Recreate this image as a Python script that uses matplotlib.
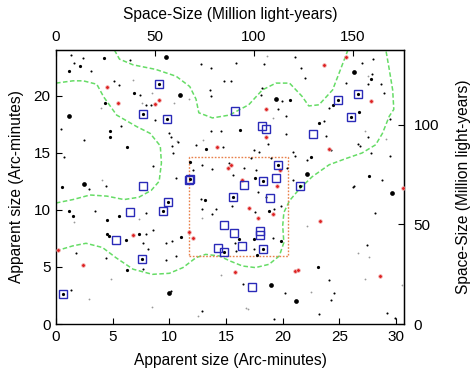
import matplotlib
matplotlib.use("Agg")
import matplotlib.pyplot as plt
import numpy as np

plt.rcParams['font.family'] = ['Liberation Sans', 'DejaVu Sans']
plt.rcParams['font.size'] = 11

# arc-minutes -> million light-years
MLY_PER_ARCMIN = 5.73

# galaxies (arc-minutes)
blk_large = [(9.7, 23.4), (10.9, 20.1), (1.12, 18.25), (2.44, 12.25), (26.3, 22.05),
             (19.45, 19.7), (22.1, 13.16), (10.0, 2.68), (29.6, 11.46), (18.95, 3.39),
             (21.15, 1.98)]
blk_med = [(4.26, 23.3), (2.15, 22.6), (1.18, 22.2), (6.85, 20.2), (4.35, 19.4), (4.76, 16.9),
           (4.76, 16.4), (6.3, 15.5), (13.2, 15.3), (0.5, 11.97), (11.8, 14.2), (27.8, 21.5),
           (20.6, 19.6), (24.4, 19.2), (26.7, 18.6), (23.2, 17.6), (16.2, 16.97), (22.5, 14.6),
           (17.56, 12.8), (27.6, 13.0), (1.18, 9.9), (1.47, 9.47), (5.6, 9.47), (4.5, 9.1),
           (4.47, 7.9), (4.65, 7.7), (6.2, 7.36), (7.35, 7.9), (11.0, 7.6), (13.15, 10.87),
           (6.26, 4.7), (18.8, 9.9), (16.1, 7.42), (17.5, 7.42), (19.83, 7.28), (17.77, 6.02),
           (23.1, 5.02)]
blk_small = [(1.32, 23.6), (2.35, 23.3), (1.6, 22.9), (3.1, 22.2), (6.5, 23.1), (12.8, 22.8),
             (13.7, 22.4), (5.15, 21.3), (5.6, 20.97), (7.4, 20.1), (7.94, 19.2), (8.4, 19.2),
             (13.6, 20.5), (13.7, 19.95), (14.85, 21.3), (0.44, 17.1), (8.76, 17.9), (5.7, 17.3),
             (2.44, 16.1), (10.0, 16.7), (10.15, 16.4), (10.8, 15.9), (10.2, 15.6), (10.35, 15.0),
             (13.7, 16.9), (14.6, 16.9), (14.7, 15.5), (12.35, 15.7), (0.74, 14.6), (8.53, 13.8),
             (12.06, 13.5), (12.9, 13.95), (13.8, 13.6), (15.3, 14.1), (4.4, 12.1), (10.6, 12.8),
             (21.1, 23.4), (15.9, 22.9), (18.35, 22.8), (21.6, 22.4), (26.98, 22.9), (28.0, 23.2),
             (27.9, 21.9), (22.0, 21.55), (15.4, 21.26), (25.6, 21.1), (27.5, 21.0), (28.65, 21.0),
             (18.2, 20.7), (18.06, 20.1), (19.98, 19.5), (19.6, 18.8), (24.1, 18.9), (28.95, 20.2),
             (29.5, 18.0), (20.3, 18.2), (23.65, 17.75), (20.3, 16.6), (23.8, 16.5), (27.5, 16.4),
             (18.74, 15.8), (24.24, 15.2), (26.65, 15.8), (26.85, 15.56), (17.5, 15.2), (17.9, 15.1),
             (17.2, 14.5), (18.95, 14.5), (20.95, 15.1), (21.1, 14.7), (22.1, 14.4), (27.8, 15.0),
             (29.5, 14.7), (16.6, 13.66), (17.6, 13.5), (15.6, 13.07), (20.4, 13.66), (20.9, 12.6),
             (28.8, 12.6), (26.3, 12.05), (2.94, 11.8), (3.4, 9.9), (7.9, 9.7), (8.6, 8.2),
             (7.94, 7.86), (7.7, 7.07), (8.1, 6.54), (9.7, 7.13), (10.2, 7.28), (10.6, 5.96),
             (9.7, 5.6), (12.8, 10.93), (12.9, 10.05), (14.1, 10.05), (13.76, 9.6), (1.76, 6.25),
             (4.4, 5.81), (7.7, 4.85), (1.3, 2.98), (10.15, 2.89), (12.9, 1.14), (17.8, 11.57),
             (15.56, 10.35), (17.56, 9.8), (19.24, 10.05), (19.83, 10.3), (19.1, 7.57), (15.8, 7.07),
             (17.5, 6.54), (15.86, 6.4), (26.2, 12.0), (28.15, 9.76), (27.4, 6.9), (24.1, 3.85),
             (16.5, 3.53), (20.2, 2.74), (24.5, 2.74), (24.3, 2.07), (23.2, 0.84), (29.2, 0.99),
             (19.2, 0.46), (29.9, 0.55), (18.5, 11.1)]
gray_small = [(6.76, 21.4), (8.5, 20.2), (3.97, 18.9), (7.6, 19.4), (10.4, 19.4), (11.7, 19.7),
              (10.7, 16.05), (13.0, 16.1), (4.1, 12.6), (18.65, 23.5), (27.5, 21.7), (19.1, 18.05),
              (27.3, 16.9), (29.1, 16.2), (1.6, 8.9), (7.3, 9.2), (12.9, 9.26), (4.85, 3.9),
              (2.94, 2.16), (8.5, 1.5), (12.5, 0.7), (14.55, 4.26), (22.1, 8.6), (26.6, 6.25),
              (27.6, 5.87), (27.3, 3.97), (22.5, 2.8), (16.9, 1.34), (30.5, 3.39), (16.8, 1.4)]
red_pts = [(4.5, 20.8), (9.06, 19.65), (8.76, 19.3), (5.5, 19.4), (14.2, 15.5), (15.15, 13.7),
           (23.65, 22.7), (25.6, 23.4), (18.56, 18.8), (27.8, 19.5), (18.5, 16.4), (24.1, 15.3),
           (15.4, 13.95), (19.8, 13.5), (16.45, 12.6), (19.5, 12.05), (30.6, 11.9), (6.8, 7.77),
           (11.76, 8.06), (12.06, 7.57), (0.15, 6.49), (2.4, 5.14), (17.03, 10.2), (19.1, 9.6),
           (17.8, 9.32), (23.3, 9.03), (21.1, 4.64), (21.36, 4.73), (15.8, 4.56), (28.6, 4.2)]
sq_dot = [(9.06, 21.0), (7.65, 18.4), (9.8, 18.0), (11.85, 12.7), (24.9, 19.6), (26.6, 20.15),
          (26.0, 18.1), (19.6, 13.95), (18.3, 12.5), (21.5, 12.05), (9.85, 10.7), (9.4, 9.9),
          (7.6, 5.7), (0.6, 2.65), (14.85, 6.3), (15.6, 11.15), (18.3, 6.55)]
sq_empty = [(11.7, 12.6), (7.65, 12.05), (15.8, 18.7), (18.2, 17.3), (18.56, 17.1), (22.7, 16.6),
            (19.45, 12.8), (16.6, 12.2), (6.5, 9.8), (5.3, 7.4), (14.85, 8.65), (14.3, 6.7),
            (18.85, 11.0), (15.7, 8.0), (18.0, 8.15), (18.0, 7.8), (16.45, 6.8), (17.3, 3.2)]

# density contour pieces
cont_a_x = [0, 1.5, 2.4, 3.6, 4.2, 5.35, 7.1, 8.3, 9.2, 9.3, 9.1, 8.4, 7.3, 6.0, 4.5, 3.0, 1.5, 0]
cont_a_y = [21.1, 21.3, 21.3, 21.0, 19.9, 18.3, 17.3, 16.7, 15.6, 14.1, 12.5, 11.7, 11.1, 10.9,
            11.2, 11.3, 10.9, 10.6]
cont_b_x = [5.15, 5.6, 6.8, 8.8, 10.6, 11.8, 12.35, 12.6, 13.8, 15.3, 17.0, 18.2, 19.4, 20.6,
            21.7, 22.3, 23.2, 24.4, 25.1, 25.6, 25.75]
cont_b_y = [24.0, 23.2, 22.7, 22.3, 21.7, 20.8, 19.7, 18.5, 18.05, 18.3, 19.2, 20.5, 21.1, 21.1,
            19.95, 19.1, 19.2, 20.5, 22.3, 23.6, 24.0]
cont_c_x = [0, 1.47, 2.65, 4.1, 5.3, 6.8, 8.5, 10.0, 11.2, 12.35, 13.2, 14.4, 15.4, 16.45, 17.6,
            18.8, 19.7, 20.1, 20.0, 20.1, 20.6, 21.45, 22.6, 24.1, 25.6, 27.0, 28.2, 28.8, 29.4,
            29.8, 29.7, 29.4, 29.1]
cont_c_y = [6.4, 6.84, 7.07, 6.7, 5.8, 4.8, 4.35, 4.44, 4.94, 5.81, 6.1, 5.96, 5.5, 5.08, 4.94,
            5.23, 5.96, 7.13, 8.6, 9.76, 10.8, 11.8, 12.9, 13.95, 14.5, 14.98, 15.7, 16.7, 18.2,
            18.8, 20.5, 22.3, 24.0]

# core region box
box_x = [11.75, 20.45]
box_y = [5.95, 14.65]


def xy(pts):
    a = np.array(pts)
    return a[:, 0], a[:, 1]


fig = plt.figure(figsize=(4.72, 3.76), dpi=100)
ax = fig.add_axes([56/472, (376-324)/376, 348/472, 274/376])

for cx, cy in [(cont_a_x, cont_a_y), (cont_b_x, cont_b_y), (cont_c_x, cont_c_y)]:
    ax.plot(cx, cy, color='#66dc66', lw=1.1, ls=(0, (3, 1.6)), zorder=2)

ax.plot([box_x[0], box_x[1], box_x[1], box_x[0], box_x[0]],
        [box_y[0], box_y[0], box_y[1], box_y[1], box_y[0]],
        color='#e8804a', lw=1.0, ls=(0, (1.2, 1.2)), zorder=2)

x, y = xy(gray_small)
ax.plot(x, y, 'o', color='#999999', ms=1.3, mew=0, zorder=3)
x, y = xy(blk_small)
ax.plot(x, y, 'o', color='black', ms=1.5, mew=0, zorder=3)
x, y = xy(blk_med)
ax.plot(x, y, 'o', color='black', ms=2.3, mew=0, zorder=3)
x, y = xy(blk_large)
ax.plot(x, y, 'o', color='black', ms=3.4, mew=0, zorder=3)
x, y = xy(red_pts)
ax.plot(x, y, 'o', mfc='#dd2020', mec='#f2b0b0', ms=2.6, mew=0.5, zorder=3)
x, y = xy(sq_dot)
ax.plot(x, y, 'o', color='black', ms=2.3, mew=0, zorder=4)
ax.plot(x, y, 's', mfc='none', mec='#2a2ab8', ms=6.3, mew=1.0, zorder=4)
x, y = xy(sq_empty)
ax.plot(x, y, 's', mfc='none', mec='#2a2ab8', ms=6.3, mew=1.0, zorder=4)

ax.set_xlim(0, 30.7)
ax.set_ylim(0, 24.0)
ax.set_xticks([0, 5, 10, 15, 20, 25, 30])
ax.set_yticks([0, 5, 10, 15, 20])
ax.tick_params(direction='in', length=4, width=0.8, pad=4, labelsize=11)
ax.set_xlabel('Apparent size (Arc-minutes)', fontsize=11.2, labelpad=7)
ax.set_ylabel('Apparent size (Arc-minutes)', fontsize=11.2, labelpad=7)
for s in ax.spines.values():
    s.set_linewidth(1.0)

top = ax.secondary_xaxis('top', functions=(lambda v: v * MLY_PER_ARCMIN,
                                           lambda v: v / MLY_PER_ARCMIN))
top.set_xticks([0, 50, 100, 150])
top.tick_params(direction='in', length=4, width=0.8, pad=4, labelsize=11)
top.set_xlabel('Space-Size (Million light-years)', fontsize=11.2, labelpad=8)

right = ax.secondary_yaxis('right', functions=(lambda v: v * MLY_PER_ARCMIN,
                                               lambda v: v / MLY_PER_ARCMIN))
right.set_yticks([0, 50, 100])
right.tick_params(direction='in', length=4, width=0.8, pad=7, labelsize=11)
right.set_ylabel('Space-Size (Million light-years)', fontsize=11.2, labelpad=12)

fig.savefig('out.png', dpi=100)
